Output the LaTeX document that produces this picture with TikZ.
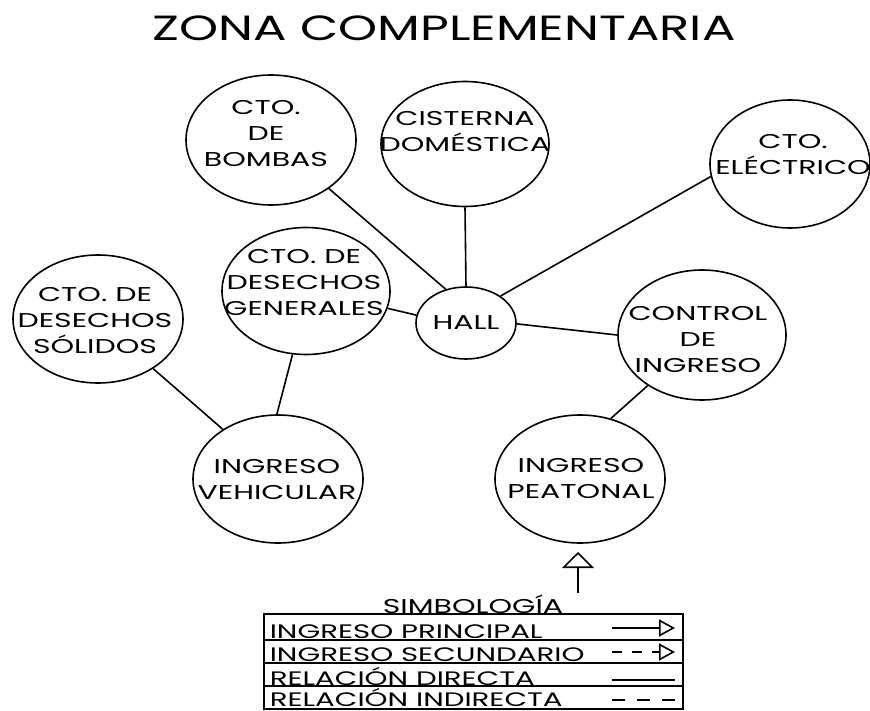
\documentclass[tikz,border=0pt]{standalone}
\usepackage{fontspec}
\usepackage{tikz}
\usetikzlibrary{arrows.meta,shapes.geometric}
\newfontfamily\gotica[FakeStretch=1.5]{Poppins}
\newfontfamily\goticatit[FakeStretch=1.42]{Poppins}

\begin{document}
\begin{tikzpicture}[x=1pt,y=-1pt,line width=1.6pt,
  zona/.style={draw,ellipse,minimum width=170pt,minimum height=128pt,inner sep=0pt},
  rotulo/.style={align=center,inner sep=0pt,font=\gotica\fontsize{20}{26}\selectfont},
  leyenda/.style={anchor=base west,inner sep=0pt,font=\gotica\fontsize{19.5}{22}\selectfont},
  ingreso/.style={-{Triangle[open,length=16pt,width=17pt]}}]
\useasboundingbox (0,0) rectangle (870,711);
\node[font=\goticatit\fontsize{35}{40}\selectfont] (titulo) at (444,28) {ZONA COMPLEMENTARIA};
% ambientes
\node[zona,minimum height=130pt] (bombas) at (271,140) {};
\node[zona,minimum width=168pt,minimum height=125pt] (cisterna) at (465,144) {};
\node[zona,minimum width=160pt] (electrico) at (790,164) {};
\node[zona,minimum width=168pt,minimum height=127pt] (desgen) at (306,291) {};
\node[zona,minimum width=100pt,minimum height=72pt] (hall) at (466,323) {};
\node[zona,minimum width=168pt,minimum height=130pt] (control) at (702,335) {};
\node[zona] (solidos) at (98,319) {};
\node[zona] (vehicular) at (278,479) {};
\node[zona] (peatonal) at (580,479) {};
\node[rotulo] (t-bombas) at (266,134) {CTO.\\DE\\BOMBAS};
\node[rotulo] (t-cisterna) at (465,132) {CISTERNA\\DOMÉSTICA};
\node[rotulo] (t-electrico) at (793,155) {CTO.\\ELÉCTRICO};
\node[rotulo] (t-desgen) at (304,283) {CTO. DE\\DESECHOS\\GENERALES};
\node[rotulo] (t-hall) at (466,323) {HALL};
\node[rotulo] (t-control) at (698,340) {CONTROL\\DE\\INGRESO};
\node[rotulo] (t-solidos) at (95,321) {CTO. DE\\DESECHOS\\SÓLIDOS};
\node[rotulo] (t-vehicular) at (277,480) {INGRESO\\VEHICULAR};
\node[rotulo] (t-peatonal) at (581,479) {INGRESO\\PEATONAL};
% relaciones
\draw (bombas.-40)--(hall.121); \draw (cisterna.270)--(hall.90); \draw (desgen.-12)--(hall.171);
\draw (hall.38)--(electrico.189); \draw (hall.-1)--(control.180); \draw (control.223)--(peatonal.63);
\draw (solidos.-42)--(vehicular.138); \draw (desgen.258)--(vehicular.91);
\coordinate (acceso) at (578,593); \coordinate (punta) at (578,552);
\draw[-{Triangle[open,length=16pt,width=32pt]}] (acceso)--(punta);
% simbologia
\node[font=\gotica\fontsize{20}{22}\selectfont,anchor=base,inner sep=0pt] (simb) at (473,613) {SIMBOLOGÍA};
\draw (264,614) rectangle (683,709);
\draw (264,640)--(683,640); \draw (264,663)--(683,663); \draw (264,686)--(683,686);
\node[leyenda] (l1) at (269,638) {INGRESO PRINCIPAL};
\node[leyenda] (l2) at (269,661) {INGRESO SECUNDARIO};
\node[leyenda] (l3) at (269,685) {RELACIÓN DIRECTA};
\node[leyenda] (l4) at (269,706) {RELACIÓN INDIRECTA};
\draw[ingreso] (612,628)--(675,628);
\draw[ingreso,dash pattern=on 10pt off 10pt] (612,652)--(675,652);
\draw (612,680)--(675,680);
\draw[dash pattern=on 13pt off 12pt] (612,700)--(675,700);
\end{tikzpicture}
\end{document}
